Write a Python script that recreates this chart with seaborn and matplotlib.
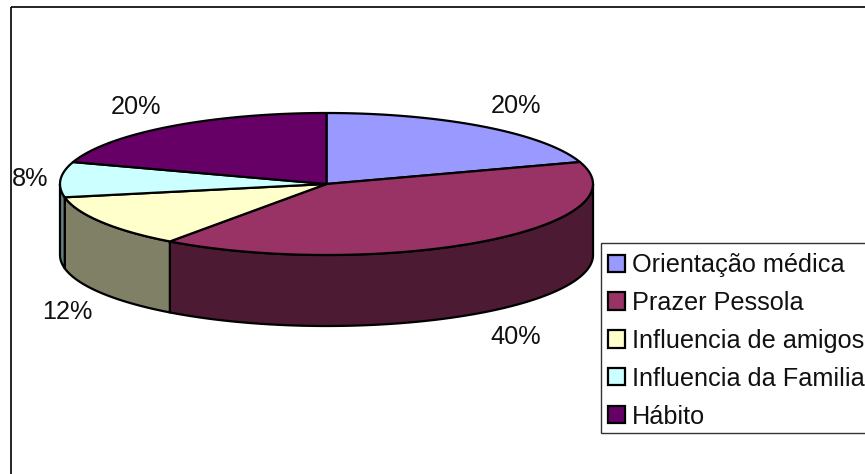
import numpy as np
import pandas as pd
import seaborn as sns
import matplotlib
matplotlib.use("Agg")
import matplotlib.pyplot as plt
from matplotlib.patches import Patch, Rectangle

categories = ["Orientação médica", "Prazer Pessola", "Influencia de amigos",
              "Influencia da Familia", "Hábito"]
shares = [20, 40, 12, 8, 20]
top_colors = ["#9999ff", "#993366", "#ffffcc", "#ccffff", "#660066"]
side_colors = ["#4d4d80", "#4d1a33", "#808066", "#668080", "#330033"]

sns.set_theme(style="white")
plt.rcParams["font.family"] = ["Liberation Sans", "DejaVu Sans"]

table = pd.DataFrame({"categoria": categories, "share": shares,
                      "top": top_colors, "side": side_colors})
table["end"] = table["share"].cumsum() / table["share"].sum() * 2 * np.pi
table["start"] = table["end"].shift(fill_value=0.0)

# Pie geometry, in pixels of the canvas
CX, CY, RX, RY, DEPTH = 326.5, 184.0, 266.5, 71.0, 71.0
INK = "#000000"
FONT = 18.2


def rim(a, b):
    t = np.linspace(a, b, 200)
    return CX + RX * np.sin(t), CY - RY * np.cos(t)


fig = plt.figure(figsize=(8.65, 4.74), dpi=100)
ax = fig.add_axes([0, 0, 1, 1])
ax.set_xlim(0, 865)
ax.set_ylim(474, 0)
ax.axis("off")

# Chart frame; its right and bottom edges run past the canvas
ax.add_patch(Rectangle((11, 7), 900, 500, fill=False, ec=INK, lw=1.2))

# Side wall: only the part of each slice facing the viewer (90° to 270°)
for row in table.itertuples():
    a, b = max(row.start, np.pi / 2), min(row.end, 3 * np.pi / 2)
    if a >= b:
        continue
    x, y = rim(a, b)
    ax.fill(np.r_[x, x[::-1]], np.r_[y, y[::-1] + DEPTH],
            fc=row.side, ec=INK, lw=1.6, joinstyle="round")

# Top face
for row in table.itertuples():
    x, y = rim(row.start, row.end)
    ax.fill(np.r_[CX, x], np.r_[CY, y], fc=row.top, ec=INK, lw=1.6, joinstyle="round")

# Percentage labels
label_xy = [(516, 106), (516, 337), (67, 312), (30, 179), (136, 107)]
for share, (lx, ly) in zip(shares, label_xy):
    ax.text(lx, ly, f"{share}%", fontsize=FONT, color="#111111", ha="center", va="center")

# Legend box, which also runs past the right edge of the canvas
ax.add_patch(Rectangle((601, 243), 300, 190, fc="white", ec="#333333", lw=1.0, zorder=4))
handles = [Patch(fc=c, ec=INK, lw=1.6) for c in top_colors]
leg = ax.legend(handles, categories, loc="upper left",
                bbox_to_anchor=(608 / 865, 1 - 253 / 474), fontsize=FONT,
                frameon=False, borderpad=0, labelspacing=0.55,
                handlelength=0.67, handleheight=0.67,
                handletextpad=0.28, borderaxespad=0)
leg.set_zorder(5)
for t in leg.get_texts():
    t.set_color("#111111")

fig.savefig("out.png", dpi=100, facecolor="white")
